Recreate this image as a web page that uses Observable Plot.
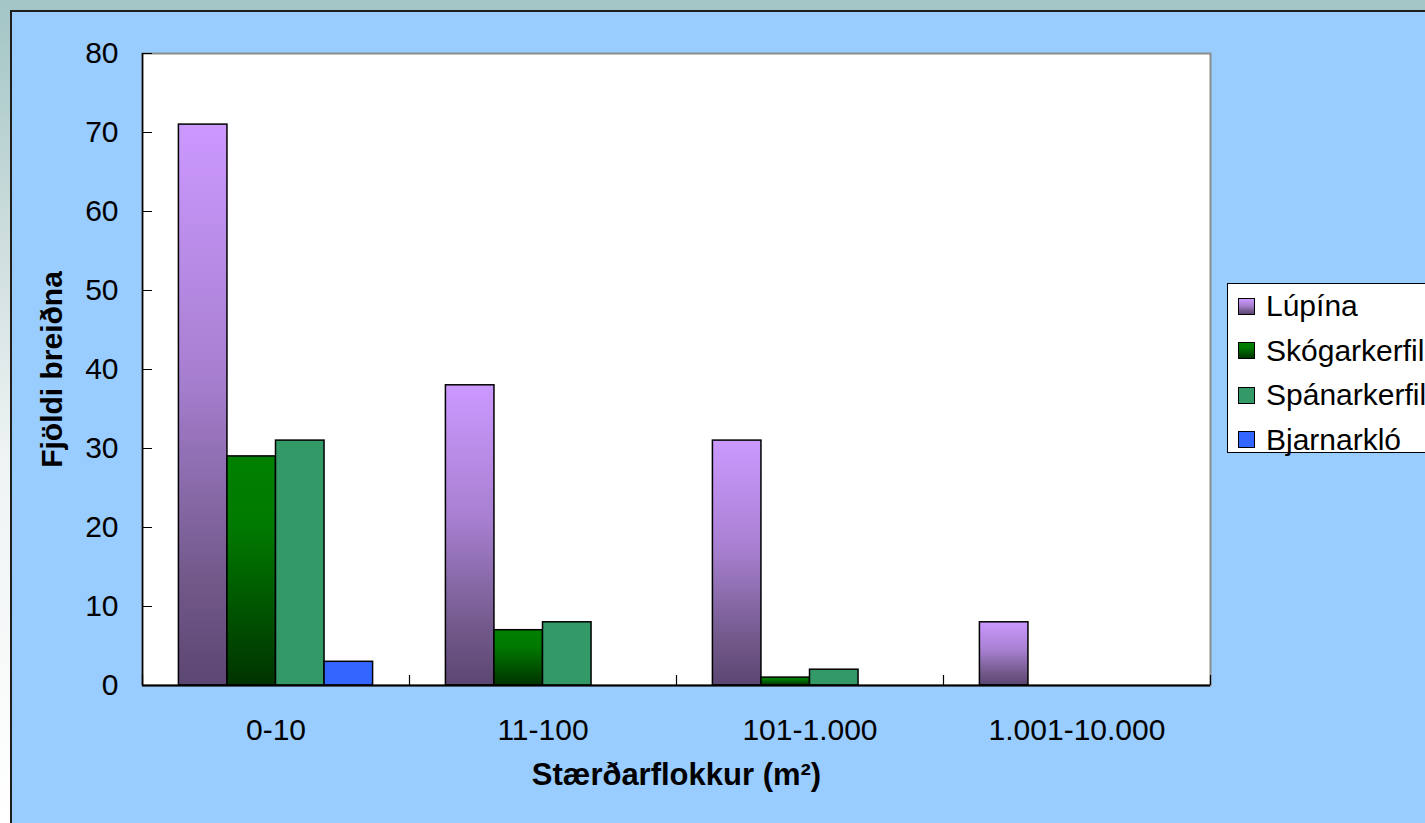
<!DOCTYPE html>
<html>
<head>
<meta charset="utf-8">
<script src="https://cdn.jsdelivr.net/npm/d3@7"></script>
<script src="https://cdn.jsdelivr.net/npm/@observablehq/plot@0.6"></script>
<style>
  html, body { margin: 0; padding: 0; }
  body {
    width: 1425px; height: 823px; overflow: hidden; position: relative;
    background: linear-gradient(to bottom, #a2c5c5 0%, #cfdede 30%, #eef3f3 55%, #ffffff 100%);
    font-family: Arial, "Liberation Sans", sans-serif;
  }
  #panel {
    position: absolute; left: 10px; top: 10px; width: 1425px; height: 823px;
    background: #99ccff; border-left: 2px solid #1e1e1e; border-top: 2px solid #1e1e1e;
  }
  #chart { position: absolute; left: 0; top: 0; }
  #legend {
    position: absolute; left: 1227px; top: 283px; width: 230px; height: 170px;
    background: #ffffff; border: 1px solid #000; box-sizing: border-box;
  }
  .item { height: 44.5px; font-size: 30px; white-space: nowrap; display: flex; align-items: center; padding-left: 10px; }
  .sw { width: 15px; height: 15px; border: 1px solid #000; margin-right: 11px; flex: none; }
</style>
</head>
<body>
<div id="panel"></div>
<div id="chart"></div>
<div id="legend"></div>
<script>
// ---- data ----
const categories = ["0-10", "11-100", "101-1.000", "1.001-10.000"];
const seriesNames = ["Lúpína", "Skógarkerfill", "Spánarkerfill", "Bjarnarkló"];
const lupina        = [71, 38, 31, 8];
const skogarkerfill = [29, 7, 1, 0];
const spanarkerfill = [31, 8, 2, 0];
const bjarnarklo    = [3, 0, 0, 0];
const yTicks = [0, 10, 20, 30, 40, 50, 60, 70, 80];
const xTitle = "Stærðarflokkur (m²)";
const yTitle = "Fjöldi breiðna";

// ---- styles ----
const gradIds = ["gLupina", "gSkogar", "gSpanar", "gBjarnar"];
const gradStops = [
  [[0, "#cc99ff"], [0.45, "#a77fd0"], [0.8, "#735a8c"], [1, "#5c4672"]],
  [[0, "#008000"], [0.3, "#007a00"], [1, "#003300"]],
  [[0, "#339966"], [1, "#339966"]],
  [[0, "#3366ff"], [1, "#3366ff"]]
];

const seriesValues = [lupina, skogarkerfill, spanarkerfill, bjarnarklo];
const rows = [];
categories.forEach((c, ci) => {
  seriesNames.forEach((s, si) => {
    rows.push({cat: c, series: s, value: seriesValues[si][ci], fill: `url(#${gradIds[si]})`});
  });
});

const W = 1425, H = 823, mL = 142, mR = 215, mT = 53, mB = 138;
const fw = (W - mL - mR) / categories.length;

const plot = Plot.plot({
  width: W, height: H,
  marginLeft: mL, marginRight: mR, marginTop: mT, marginBottom: mB,
  style: {background: "transparent", fontFamily: 'Arial, "Liberation Sans", sans-serif', color: "#000", overflow: "visible"},
  fx: {domain: categories, padding: 0, round: false, label: null},
  x: {domain: seriesNames, paddingInner: 0, paddingOuter: 0.75, round: false, axis: null},
  y: {domain: [0, 80], axis: null},
  color: {type: "identity"},
  marks: [
    Plot.frame({facet: "super", fill: "white", stroke: "#8c8c8c", strokeWidth: 2}),
    Plot.barY(rows, {fx: "cat", x: "series", y: "value", fill: "fill", stroke: "#000", strokeWidth: 1.5, filter: d => d.value > 0}),
    Plot.ruleY([0], {stroke: "#000", strokeWidth: 2}),
    Plot.ruleX([0], {x: null, dx: -fw / 2, facetAnchor: "left", stroke: "#000", strokeWidth: 1.5}),
    Plot.ruleX([0], {x: null, y1: 0, y2: 0, insetTop: -10, dx: -fw / 2, stroke: "#000", strokeWidth: 1.2}),
    Plot.ruleX([0], {x: null, y1: 0, y2: 0, insetTop: -10, dx: fw / 2, facetAnchor: "right", stroke: "#000", strokeWidth: 1.2}),
    Plot.axisY({ticks: yTicks, tickSize: 0, tickPadding: 24, fontSize: 30, label: null}),
    Plot.axisY({ticks: yTicks, tickSize: -10, fill: "none", stroke: "#000", label: null}),
    Plot.axisFx({anchor: "bottom", tickSize: 0, tickPadding: 33, fontSize: 30, label: null}),
    Plot.text([yTitle], {frameAnchor: "left", facetAnchor: "left", rotate: -90, dx: -90, fontSize: 30, fontWeight: "bold", textAnchor: "middle"}),
    Plot.text([xTitle], {facet: "super", frameAnchor: "bottom", lineAnchor: "middle", dy: 90, fontSize: 31, fontWeight: "bold"})
  ]
});

// gradient definitions
const NS = "http://www.w3.org/2000/svg";
const defs = document.createElementNS(NS, "defs");
gradIds.forEach((id, i) => {
  const g = document.createElementNS(NS, "linearGradient");
  g.setAttribute("id", id);
  g.setAttribute("x1", "0"); g.setAttribute("y1", "0");
  g.setAttribute("x2", "0"); g.setAttribute("y2", "1");
  gradStops[i].forEach(([o, c]) => {
    const s = document.createElementNS(NS, "stop");
    s.setAttribute("offset", o);
    s.setAttribute("stop-color", c);
    g.appendChild(s);
  });
  defs.appendChild(g);
});
plot.insertBefore(defs, plot.firstChild);
document.getElementById("chart").appendChild(plot);

// legend
const legend = document.getElementById("legend");
seriesNames.forEach((s, i) => {
  const item = document.createElement("div");
  item.className = "item";
  const sw = document.createElement("span");
  sw.className = "sw";
  sw.style.background = `linear-gradient(to bottom, ${gradStops[i].map(([o, c]) => `${c} ${o * 100}%`).join(", ")})`;
  const t = document.createElement("span");
  t.textContent = s;
  item.appendChild(sw);
  item.appendChild(t);
  legend.appendChild(item);
});
</script>
</body>
</html>
